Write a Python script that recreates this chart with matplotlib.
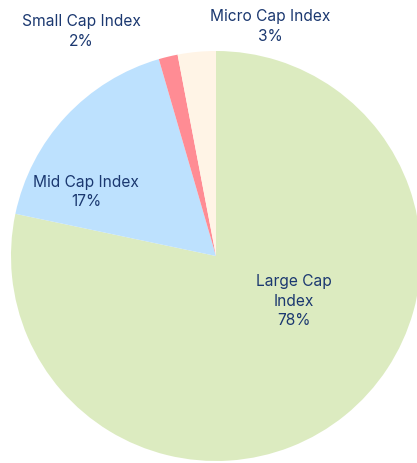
import matplotlib
matplotlib.use("Agg")
import matplotlib.pyplot as plt

categories = ["Large Cap Index", "Mid Cap Index", "Small Cap Index", "Micro Cap Index"]
label_text = ["Large Cap\nIndex\n78%", "Mid Cap Index\n17%", "Small Cap Index\n2%", "Micro Cap Index\n3%"]
values = [78.3, 17.2, 1.5, 3.0]
colors = ["#dcebc0", "#bde1fe", "#ff8c94", "#fff4e6"]

fig = plt.figure(figsize=(4.17, 4.64), dpi=100)
W, H = 417, 464
cx, cy, r = 216, 257, 205
ax = fig.add_axes([(cx - r) / W, (H - cy - r) / H, 2 * r / W, 2 * r / H])
ax.pie(values, colors=colors, startangle=90, counterclock=False,
       wedgeprops=dict(linewidth=0), radius=1.0)
ax.set_xlim(-1, 1)
ax.set_ylim(-1, 1)
ax.set_aspect("equal")
ax.axis("off")

label_pos = [(0.38, -0.215), (-0.634, 0.317), (-0.655, 1.1), (0.263, 1.125)]
for txt, (x, y) in zip(label_text, label_pos):
    ax.text(x, y, txt, ha="center", va="center", fontsize=11.2, family="Inter",
            color="#1b3870", linespacing=1.4, clip_on=False)

fig.savefig("out.png", dpi=100)
